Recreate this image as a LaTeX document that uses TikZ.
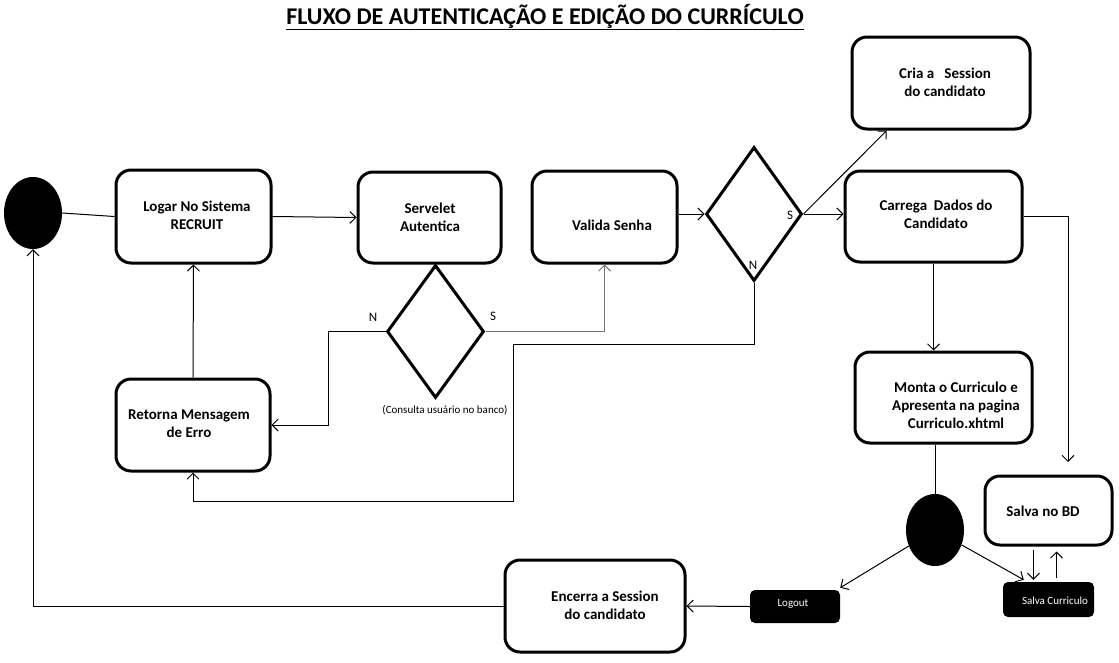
\documentclass[tikz,border=0pt]{standalone}
\usepackage{fontspec}
\setmainfont{Carlito}
\usetikzlibrary{arrows.meta,shapes.geometric,calc}
\begin{document}
\begin{tikzpicture}[x=1pt,y=-1pt,
  box/.style={draw,line width=3pt,rounded corners=15pt,fill=white,inner sep=0pt},
  blk/.style={fill=black,rounded corners=5pt,inner sep=0pt},
  blktxt/.style={text=white,font=\fontsize{11}{13}\selectfont},
  lbl/.style={font=\fontsize{15}{18}\selectfont\bfseries,align=center,inner sep=0pt},
  dec/.style={draw,line width=3pt,shape=diamond,inner sep=0pt,fill=white},
  blob/.style={fill=black,shape=ellipse,inner sep=0pt},
  yn/.style={font=\fontsize{13}{15}\selectfont,inner sep=0pt},
  conn/.style={line width=1pt},
  arr/.style={conn,-{Straight Barb[length=6pt,width=12pt]}},
]
\useasboundingbox (0,0) rectangle (1119,662);

% title
\node[font=\fontsize{24}{28}\selectfont\bfseries,inner sep=0pt] (title) at (545,17) {\underline{FLUXO DE AUTENTICAÇÃO E EDIÇÃO DO CURRÍCULO}};

% shapes
\node[blob,minimum width=58,minimum height=72] (start) at (33,213) {};
\node[box,minimum width=155,minimum height=93] (logar) at (193.5,216.5) {};
\node[box,minimum width=143,minimum height=91] (serv) at (429.5,217.5) {};
\node[box,minimum width=145,minimum height=92] (valida) at (604.5,217) {};
\node[dec,minimum width=97,minimum height=133] (d1) at (435.5,331.5) {};
\node[dec,minimum width=96,minimum height=134] (d2) at (754,214) {};
\node[box,minimum width=178,minimum height=92] (cria) at (941,83) {};
\node[box,minimum width=177,minimum height=91] (carrega) at (933.5,216.5) {};
\node[box,minimum width=177,minimum height=91] (monta) at (943.5,397.5) {};
\node[box,minimum width=127,minimum height=69] (bd) at (1048.5,510.5) {};
\node[box,minimum width=154,minimum height=92] (retorna) at (193,425) {};
\node[box,minimum width=180,minimum height=92] (encerra) at (595,606) {};
\node[blk,minimum width=90,minimum height=33] (logout) at (795,606.5) {};
\node[blk,minimum width=91,minimum height=35] (sc) at (1048.5,599.5) {};
\node[blob,minimum width=58,minimum height=72] (endc) at (935,530) {};

% texts
\node[lbl] (tlogar) at (197,215) {Logar No Sistema\\RECRUIT};
\node[lbl] (tserv) at (430,217) {Servelet\\Autentica};
\node[lbl] (tvalida) at (612,225) {Valida Senha};
\node[lbl] (tcria) at (945,82) {Cria a \ \ Session\\do candidato};
\node[lbl] (tcarrega) at (936,214) {Carrega\ \ Dados do\\Candidato};
\node[lbl] (tmonta) at (956,405) {Monta o Curriculo e\\Apresenta na pagina\\Curriculo.xhtml};
\node[lbl] (tbd) at (1043,511) {Salva no BD};
\node[lbl] (tretorna) at (189,424) {Retorna Mensagem\\de Erro};
\node[lbl] (tencerra) at (605,605) {Encerra a Session\\do candidato};
\node[blktxt] (tlogout) at (793,604) {Logout};
\node[blktxt] (tsc) at (1055,601) {Salva Curriculo};
\node[font=\fontsize{11}{13}\selectfont,inner sep=0pt] (tconsulta) at (445,410) {(Consulta usuário no banco)};
\node[yn] (n1) at (373,317) {N};
\node[yn] (s1) at (493,316) {S};
\node[yn] (s2) at (790,215) {S};
\node[yn] (n2) at (753,265) {N};

% connectors
\coordinate (bdin) at (1068,462);
\draw[conn] (start.east) -- (logar.west);
\draw[arr] (logar.east) -- (serv.west);
\draw[arr,draw=black!55] (d1.east) -| (valida.south);
\draw[arr] (d1.west) -- ++(-57,0) |- (retorna.east);
\draw[arr] (d2.west -| valida.east) -- (d2.west);
\draw[arr] (d2.east) -- (carrega.west |- d2.east);
\draw[arr] (d2.east) -- ($(cria.south west)!0.2!(cria.south east)$);
\draw[arr] (d2.south) -- ++(0,62) -| ++(-241,157) -| (retorna.south);
\draw[arr] (carrega.south) -- (carrega.south |- monta.north);
\draw[arr] (carrega.east) -| (bdin);
\draw[conn] (monta.south -| endc.north) -- (endc.north);
\draw[arr] (endc) -- ($(logout.north east)+(0,-2)$);
\draw[arr] (endc) -- ($(sc.north west)+(21,-2)$);
\draw[arr,shorten <=3pt,shorten >=2pt] ([xshift=-15]bd.south) -- ([xshift=-15]bd.south |- sc.north);
\draw[arr,shorten <=4pt,shorten >=5pt] ([xshift=8]sc.north) -- ([xshift=8]sc.north |- bd.south);
\draw[arr] (logout.west) -- (encerra.east);
\draw[arr] (encerra.west) -| (start.south);
\draw[arr] (retorna.north) -- (logar.south);
\end{tikzpicture}
\end{document}
